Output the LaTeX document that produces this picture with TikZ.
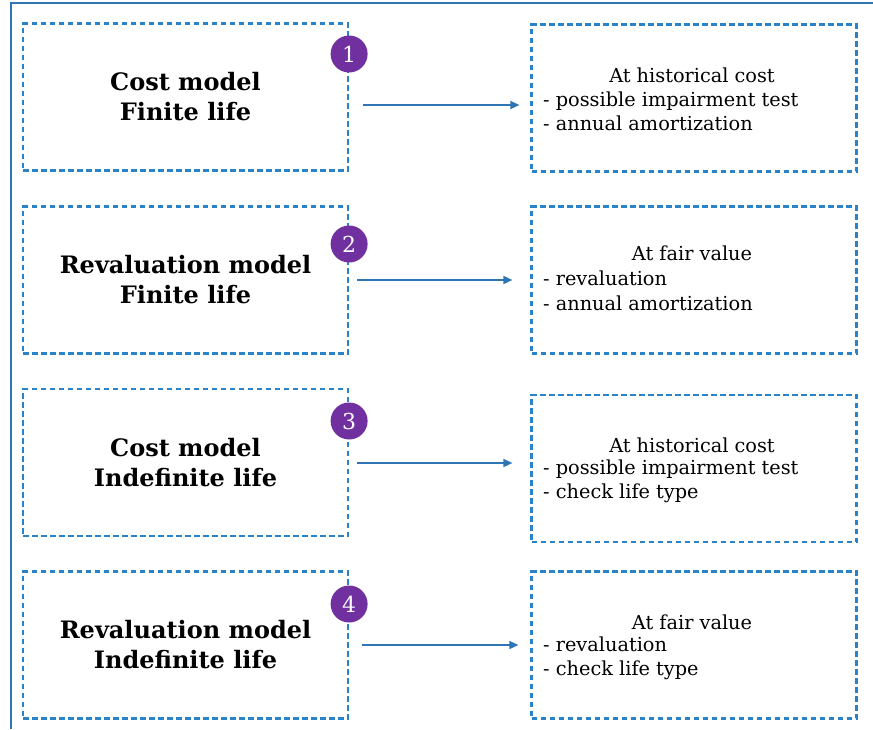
\documentclass[tikz,border=0pt]{standalone}
\usepackage{fontspec}
\setmainfont{DejaVu Serif}
\usetikzlibrary{arrows.meta}
\definecolor{dashblue}{HTML}{2A82C8}
\definecolor{frameblue}{HTML}{2E75B6}
\definecolor{badge}{HTML}{7030A0}
\begin{document}
\begin{tikzpicture}[x=1pt,y=-1pt,
  dbox/.style={draw=dashblue,line width=2.2pt,dash pattern=on 5.5pt off 3.5pt,
    minimum width=325pt,inner sep=0pt},
  lbox/.style={dbox,minimum height=147pt,align=center,
    font=\fontsize{24}{30}\selectfont\bfseries},
  rbox/.style={dbox,minimum height=147pt},
  title/.style={font=\fontsize{19.3}{24}\selectfont,inner sep=0pt},
  items/.style={font=\fontsize{19.3}{24.5}\selectfont,align=left,anchor=west,inner sep=0pt},
  num/.style={circle,fill=badge,text=white,minimum size=37pt,inner sep=0pt,
    font=\fontsize{22}{22}\selectfont},
  arr/.style={draw=frameblue,line width=1.5pt,-{Triangle[length=9pt,width=8pt]}}]
\useasboundingbox (0,0) rectangle (873,729);
% outer frame (top and left edges)
\draw[frameblue,line width=2pt] (11,729) -- (11,3) -- (873,3);
% left column: measurement model and useful life
\node[lbox] (L1) at (185.5,97) {Cost model\\Finite life};
\node[lbox] (L2) at (185.5,280) {Revaluation model\\Finite life};
\node[lbox] (L3) at (185.5,462.5) {Cost model\\Indefinite life};
\node[lbox] (L4) at (185.5,645) {Revaluation model\\Indefinite life};
% right column: accounting treatment
\node[rbox] (R1) at (694,98) {};
\node[rbox] (R2) at (694,280) {};
\node[rbox] (R3) at (694,468.5) {};
\node[rbox] (R4) at (694,645) {};
\node[title] (T1) at (692,75) {At historical cost};
\node[items] (I1) at (543,111.5) {- possible impairment test\\- annual amortization};
\node[title] (T2) at (692,253) {At fair value};
\node[items] (I2) at (543,291) {- revaluation\\- annual amortization};
\node[title] (T3) at (692,445) {At historical cost};
\node[items] (I3) at (543,481.5) {- possible impairment test\\- check life type};
\node[title] (T4) at (692,622) {At fair value};
\node[items] (I4) at (543,658.5) {- revaluation\\- check life type};
% numbered badges on the right edge of the left boxes
\node[num] (N1) at (L1.east |- 0,54) {1};
\node[num] (N2) at (L2.east |- 0,244) {2};
\node[num] (N3) at (L3.east |- 0,421) {3};
\node[num] (N4) at (L4.east |- 0,604) {4};
% arrows from each case to its treatment
\draw[arr] ([xshift=14pt,yshift=-8pt]L1.east) -- ([xshift=-11pt,yshift=-7pt]R1.west);
\draw[arr] ([xshift=8pt]L2.east) -- ([xshift=-18pt]R2.west);
\draw[arr] ([xshift=8pt,yshift=-0.5pt]L3.east) -- ([xshift=-18pt,yshift=5.5pt]R3.west);
\draw[arr] ([xshift=13pt]L4.east) -- ([xshift=-12pt]R4.west);
\end{tikzpicture}
\end{document}
